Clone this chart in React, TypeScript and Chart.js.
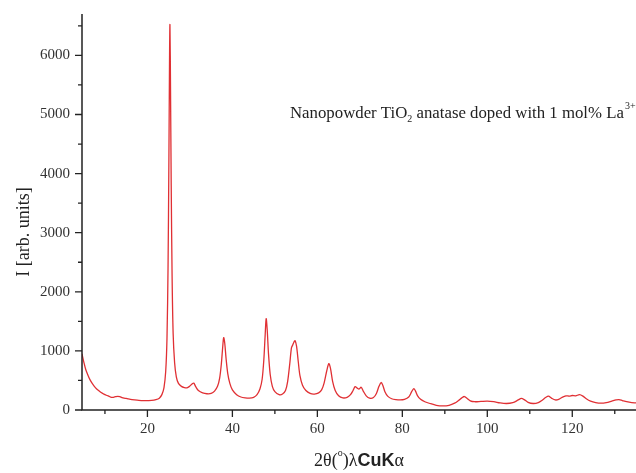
import React, { useEffect, useRef } from "react";
import { Chart, registerables } from "chart.js";

Chart.register(...registerables);

const twoTheta = [
  4.6, 5.0, 5.5, 6.0, 6.5, 7.0, 7.5, 8.0, 8.5, 9.0, 9.5, 10.0, 10.5, 11.0, 11.5, 12.0, 12.5, 13.0, 13.5, 14.0,
  14.5, 15.0, 16.0, 17.0, 18.0, 19.0, 20.0, 21.0, 22.0, 22.8, 23.4, 23.9, 24.3, 24.6, 24.85, 25.05, 25.2, 25.3,
  25.42, 25.6, 25.8, 26.05, 26.4, 26.8, 27.3, 28.0, 28.7, 29.3, 29.9, 30.5, 30.9, 31.4, 32.0, 33.0, 34.0, 35.0,
  35.8, 36.5, 37.0, 37.4, 37.7, 37.95, 38.2, 38.5, 38.9, 39.4, 40.0, 41.0, 42.0, 43.0, 44.0, 45.0, 45.8, 46.5,
  47.0, 47.4, 47.7, 47.95, 48.2, 48.5, 48.9, 49.4, 50.0, 51.0, 51.8, 52.5, 53.0, 53.5, 53.9, 54.2, 54.5, 54.75,
  55.1, 55.5, 55.9, 56.5, 57.3, 58.3, 59.3, 60.3, 61.0, 61.6, 62.2, 62.7, 63.1, 63.6, 64.2, 65.0, 66.0, 67.0,
  67.8, 68.4, 68.9, 69.4, 69.8, 70.3, 70.8, 71.5, 72.3, 73.2, 73.9, 74.5, 75.0, 75.4, 75.9, 76.6, 77.5, 78.5,
  79.5, 80.5, 81.5, 82.2, 82.7, 83.1, 83.6, 84.3, 85.3, 86.5, 88.0, 89.5, 91.0, 92.3, 93.3, 94.0, 94.6, 95.2,
  96.0, 97.0, 98.5, 100.0, 101.5, 103.0, 104.5, 106.0, 107.3, 108.0, 108.7, 109.6, 110.8, 112.0, 113.0, 113.8,
  114.4, 115.1, 116.0, 116.8, 117.6, 118.5, 119.3, 120.0, 120.8, 121.7, 122.5, 123.3, 124.3, 125.5, 126.8,
  128.0, 129.3, 130.3, 131.0, 131.8, 132.8, 134.0, 135.0,
];

const intensity = [
  950, 820, 680, 590, 510, 450, 400, 360, 330, 300, 280, 260, 245, 230, 215, 215, 225, 232, 225, 210,
  200, 195, 180, 170, 162, 158, 160, 162, 175, 200, 260, 380, 650, 1200, 2400, 4200, 5900, 6520,
  5600, 3800, 2300, 1300, 800, 560, 450, 400, 380, 375, 400, 440, 455, 390, 330, 290, 275, 280,
  320, 400, 540, 780, 1050, 1225, 1130, 880, 620, 450, 340, 260, 220, 205, 200, 215, 260, 360,
  520, 850, 1250, 1545, 1350, 950, 600, 400, 310, 260, 270, 330, 480, 780, 1050, 1100, 1150, 1174,
  1080, 820, 580, 420, 330, 280, 270, 290, 340, 460, 660, 785, 700, 480, 330, 240, 205, 215,
  260, 330, 395, 370, 355, 385, 320, 240, 200, 210, 280, 400, 465, 420, 310, 230, 190, 175,
  170, 180, 220, 310, 363, 320, 240, 180, 140, 110, 80, 70, 80, 115, 165, 205, 228, 200,
  155, 140, 145, 150, 140, 120, 110, 125, 170, 195, 175, 130, 110, 125, 170, 215,
  233, 200, 170, 180, 215, 240, 235, 245, 240, 260, 235, 190, 150, 125, 115,
  125, 150, 170, 177, 160, 140, 125, 120,
];

const xMajorTicks = [20, 40, 60, 80, 100, 120];
const xMinorTicks = [10, 30, 50, 70, 90, 110, 130];
const yMajorTicks = [0, 1000, 2000, 3000, 4000, 5000, 6000];
const yMinorTicks = [500, 1500, 2500, 3500, 4500, 5500, 6500];

const annotationParts = [
  { text: "Nanopowder TiO", kind: "normal" },
  { text: "2", kind: "sub" },
  { text: " anatase doped with 1 mol% La", kind: "normal" },
  { text: "3+", kind: "sup" },
];

const SERIF = "'Liberation Serif', 'DejaVu Serif', serif";

const customPlugin = {
  id: "customAxes",
  afterDraw(chart: any) {
    const { ctx, chartArea } = chart;
    const xs = chart.scales.x;
    const ys = chart.scales.y;
    ctx.save();
    ctx.strokeStyle = "#222";
    ctx.lineWidth = 1.5;
    ctx.beginPath();
    ctx.moveTo(chartArea.left, chartArea.top);
    ctx.lineTo(chartArea.left, chartArea.bottom);
    ctx.lineTo(chartArea.right, chartArea.bottom);
    ctx.stroke();

    ctx.lineWidth = 1.3;
    ctx.beginPath();
    xMajorTicks.forEach((v) => {
      const p = xs.getPixelForValue(v);
      ctx.moveTo(p, chartArea.bottom);
      ctx.lineTo(p, chartArea.bottom + 7);
    });
    xMinorTicks.forEach((v) => {
      const p = xs.getPixelForValue(v);
      ctx.moveTo(p, chartArea.bottom);
      ctx.lineTo(p, chartArea.bottom + 4);
    });
    yMajorTicks.forEach((v) => {
      const p = ys.getPixelForValue(v);
      ctx.moveTo(chartArea.left, p);
      ctx.lineTo(chartArea.left - 7, p);
    });
    yMinorTicks.forEach((v) => {
      const p = ys.getPixelForValue(v);
      ctx.moveTo(chartArea.left, p);
      ctx.lineTo(chartArea.left - 4, p);
    });
    ctx.stroke();

    // annotation
    ctx.fillStyle = "#222";
    ctx.textBaseline = "alphabetic";
    let ax = 290;
    const ay = 118;
    annotationParts.forEach((part) => {
      if (part.kind === "normal") {
        ctx.font = `16.8px ${SERIF}`;
        ctx.fillText(part.text, ax, ay);
      } else if (part.kind === "sub") {
        ctx.font = `10px ${SERIF}`;
        ctx.fillText(part.text, ax, ay + 4);
      } else {
        ctx.font = `10px ${SERIF}`;
        ctx.fillText(part.text, ax + 1, ay - 9);
      }
      ax += ctx.measureText(part.text).width;
    });

    // x title
    const titleParts = [
      { text: "2θ(", font: `18px ${SERIF}`, dy: 0 },
      { text: "o", font: `10px ${SERIF}`, dy: -10 },
      { text: ")λ", font: `18px ${SERIF}`, dy: 0 },
      { text: "CuK", font: `bold 18px 'Liberation Sans', Arial, sans-serif`, dy: 0 },
      { text: "α", font: `18px ${SERIF}`, dy: 0 },
    ];
    let total = 0;
    titleParts.forEach((t) => {
      ctx.font = t.font;
      total += ctx.measureText(t.text).width;
    });
    let tx = (chartArea.left + chartArea.right) / 2 - total / 2;
    const ty = 466;
    titleParts.forEach((t) => {
      ctx.font = t.font;
      ctx.fillText(t.text, tx, ty + t.dy);
      tx += ctx.measureText(t.text).width;
    });

    // y title
    ctx.save();
    ctx.translate(29, 232);
    ctx.rotate(-Math.PI / 2);
    ctx.font = `18px ${SERIF}`;
    ctx.textAlign = "center";
    ctx.fillText("I [arb. units]", 0, 0);
    ctx.restore();

    ctx.restore();
  },
};

export default function App() {
  const canvasRef = useRef<HTMLCanvasElement | null>(null);

  useEffect(() => {
    if (!canvasRef.current) return;
    const chart = new Chart(canvasRef.current, {
      type: "line",
      data: {
        datasets: [
          {
            data: twoTheta.map((x, i) => ({ x, y: intensity[i] })),
            borderColor: "rgb(224, 48, 52)",
            borderWidth: 1.3,
            pointRadius: 0,
            fill: false,
            tension: 0.3,
          },
        ],
      },
      options: {
        responsive: false,
        animation: false,
        layout: { padding: { top: 13, right: 0, left: 0, bottom: 0 } },
        plugins: {
          legend: { display: false },
          tooltip: { enabled: false },
        },
        scales: {
          x: {
            type: "linear",
            min: 4.6,
            max: 135,
            afterBuildTicks: (s: any) => {
              s.ticks = xMajorTicks.map((v) => ({ value: v }));
            },
            afterFit: (s: any) => {
              s.height = 63;
            },
            grid: { display: true, drawOnChartArea: false, drawTicks: true, tickLength: 7, color: "rgba(0,0,0,0)" },
            border: { display: false },
            ticks: {
              color: "#333",
              font: { family: SERIF, size: 15 },
              padding: 3,
              maxRotation: 0,
              autoSkip: false,
              callback: (v: any) => String(v),
            },
          },
          y: {
            type: "linear",
            min: 0,
            max: 6700,
            afterBuildTicks: (s: any) => {
              s.ticks = yMajorTicks.map((v) => ({ value: v }));
            },
            afterFit: (s: any) => {
              s.width = 82;
            },
            grid: { display: true, drawOnChartArea: false, drawTicks: true, tickLength: 7, color: "rgba(0,0,0,0)" },
            border: { display: false },
            ticks: {
              color: "#333",
              font: { family: SERIF, size: 15 },
              padding: 5,
              autoSkip: false,
              callback: (v: any) => String(v),
            },
          },
        },
      },
      plugins: [customPlugin],
    });
    return () => chart.destroy();
  }, []);

  return (
    <div style={{ position: "absolute", left: 0, top: 0, width: 636, height: 473, background: "#fff" }}>
      <canvas ref={canvasRef} width={636} height={473} style={{ display: "block" }} />
    </div>
  );
}
